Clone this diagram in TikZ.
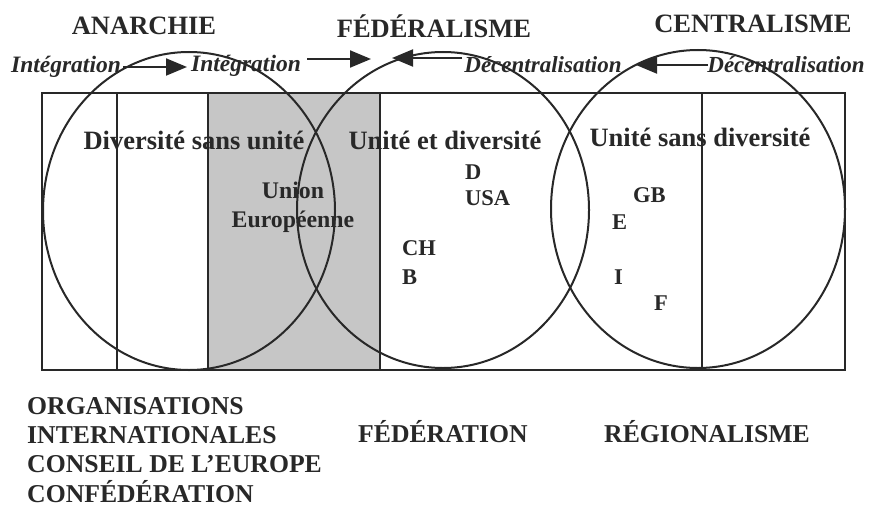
\documentclass[tikz,border=0pt]{standalone}
\usepackage{fontspec}
\setmainfont{Liberation Serif}
\usetikzlibrary{arrows.meta}
\definecolor{bandgray}{RGB}{198,198,198}
\definecolor{ink}{RGB}{40,40,40}
\begin{document}
\begin{tikzpicture}[x=1pt,y=-1pt,
  ln/.style={draw=ink,line width=2pt},
  head/.style={font=\fontsize{26.5}{30}\selectfont\bfseries,text=ink,inner sep=0pt},
  flow/.style={font=\fontsize{23.5}{26}\selectfont\bfseries\itshape,text=ink,inner sep=0pt},
  flowd/.style={font=\fontsize{23}{26}\selectfont\bfseries\itshape,text=ink,inner sep=0pt},
  inner/.style={font=\fontsize{26.5}{30}\selectfont\bfseries,text=ink,inner sep=0pt},
  small/.style={font=\fontsize{22.5}{28}\selectfont\bfseries,text=ink,inner sep=0pt,anchor=west},
  foot/.style={font=\fontsize{25.7}{29}\selectfont\bfseries,text=ink,inner sep=0pt,anchor=west},
  arr/.style={ln,-{Triangle[length=21pt,width=17pt]}}]
\useasboundingbox (0,0) rectangle (869,508);
% shaded band
\fill[bandgray] (208,93) rectangle (380,370);
% frame and dividers
\draw[ln] (42,93) rectangle (845,370);
\draw[ln] (117,93) -- (117,370);
\draw[ln] (208,93) -- (208,370);
\draw[ln] (380,93) -- (380,370);
\draw[ln] (702,93) -- (702,370);
% three circles
\draw[ln] (189,211) ellipse [x radius=146, y radius=159];
\draw[ln] (443,210) ellipse [x radius=146, y radius=158];
\draw[ln] (698,209) ellipse [x radius=147, y radius=159];
% top headings
\node[head] (anarchie) at (144,26) {ANARCHIE};
\node[head] (federalisme) at (434,26) {FÉDÉRALISME};
\node[head] (centralisme) at (753,24) {CENTRALISME};
% flow labels
\node[flow] (int1) at (66,67) {Intégration};
\node[flow] (int2) at (246,66) {Intégration};
\node[flowd] (dec1) at (543,65) {Décentralisation};
\node[flowd] (dec2) at (786,65) {Décentralisation};
% arrows
\coordinate (a1s) at (123,67);
\coordinate (a1e) at (187,67);
\coordinate (a2s) at (307,59);
\coordinate (a2e) at (371,59);
\coordinate (a3s) at (462,58);
\coordinate (a3e) at (392,58);
\coordinate (a4s) at (708,65);
\coordinate (a4e) at (636,65);
\draw[arr] (a1s) -- (a1e);
\draw[arr] (a2s) -- (a2e);
\draw[arr] (a3s) -- (a3e);
\draw[arr] (a4s) -- (a4e);
% inner labels
\node[inner] (div) at (194,140) {Diversité sans unité};
\node[inner] (uetd) at (445,140) {Unité et diversité};
\node[inner] (usd) at (700,137) {Unité sans diversité};
\node[inner,align=center,font=\fontsize{23.8}{29}\selectfont\bfseries] (ue) at (293,207) {Union\\Européenne};
% countries
\node[small] (d) at (465,172) {D};
\node[small] (usa) at (465,198) {USA};
\node[small] (ch) at (402,248) {CH};
\node[small] (b) at (402,277) {B};
\node[small] (gb) at (633,195) {GB};
\node[small] (e) at (612,222) {E};
\node[small] (i) at (614,277) {I};
\node[small] (f) at (654,303) {F};
% bottom labels
\node[foot] (org1) at (27,406) {ORGANISATIONS};
\node[foot] (org2) at (27,435) {INTERNATIONALES};
\node[foot] (org3) at (27,464) {CONSEIL DE L’EUROPE};
\node[foot] (org4) at (27,492) {CONFÉDÉRATION};
\node[foot] (fed) at (358,432) {FÉDÉRATION};
\node[foot] (reg) at (604,432) {RÉGIONALISME};
\end{tikzpicture}
\end{document}
